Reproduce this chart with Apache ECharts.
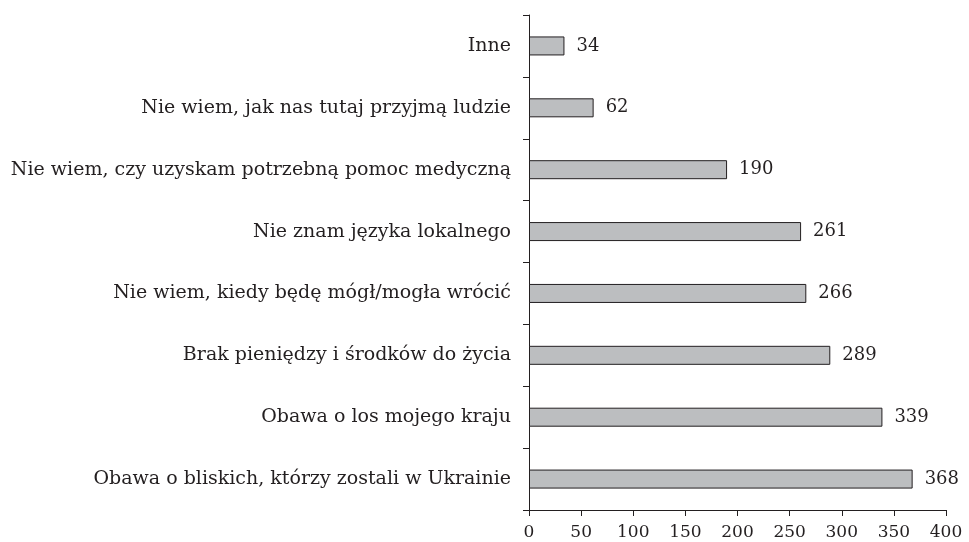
<!DOCTYPE html>
<html>
<head>
<meta charset="utf-8">
<script src="https://cdn.jsdelivr.net/npm/echarts@6/dist/echarts.min.js"></script>
<style>
  html, body { margin: 0; padding: 0; background: #fff; }
  #chart { width: 969px; height: 542px; }
</style>
</head>
<body>
<div id="chart"></div>
<script>
// kategorie (od dołu do góry)
const categories = [
  'Obawa o bliskich, którzy zostali w Ukrainie',
  'Obawa o los mojego kraju',
  'Brak pieniędzy i środków do życia',
  'Nie wiem, kiedy będę mógł/mogła wrócić',
  'Nie znam języka lokalnego',
  'Nie wiem, czy uzyskam potrzebną pomoc medyczną',
  'Nie wiem, jak nas tutaj przyjmą ludzie',
  'Inne'
]
const values = [368, 339, 289, 266, 261, 190, 62, 34]
const xTicks = [0, 50, 100, 150, 200, 250, 300, 350, 400]

const ink = '#231f20'
const font = 'DejaVu Serif'

const chart = echarts.init(document.getElementById('chart'))
chart.setOption({
  animation: false,
  textStyle: { fontFamily: font },
  grid: { left: 529, right: 23, top: 15, bottom: 32 },
  xAxis: {
    type: 'value',
    min: xTicks[0],
    max: xTicks[xTicks.length - 1],
    interval: xTicks[1] - xTicks[0],
    splitLine: { show: false },
    axisLine: { show: true, lineStyle: { color: ink, width: 1 } },
    axisTick: { show: true, length: 6, lineStyle: { color: ink } },
    axisLabel: { color: ink, fontFamily: font, fontSize: 17, margin: 14 }
  },
  yAxis: {
    type: 'category',
    data: categories,
    axisLine: { show: true, lineStyle: { color: ink, width: 1 } },
    axisTick: { show: true, length: 6, lineStyle: { color: ink } },
    axisLabel: { color: ink, fontFamily: font, fontSize: 19, margin: 18 }
  },
  series: [{
    type: 'bar',
    data: values,
    barWidth: 19,
    itemStyle: { color: '#bcbec0', borderColor: ink, borderWidth: 1 },
    label: {
      show: true,
      position: 'right',
      distance: 12,
      color: ink,
      fontFamily: font,
      fontSize: 18
    }
  }]
})
</script>
</body>
</html>
